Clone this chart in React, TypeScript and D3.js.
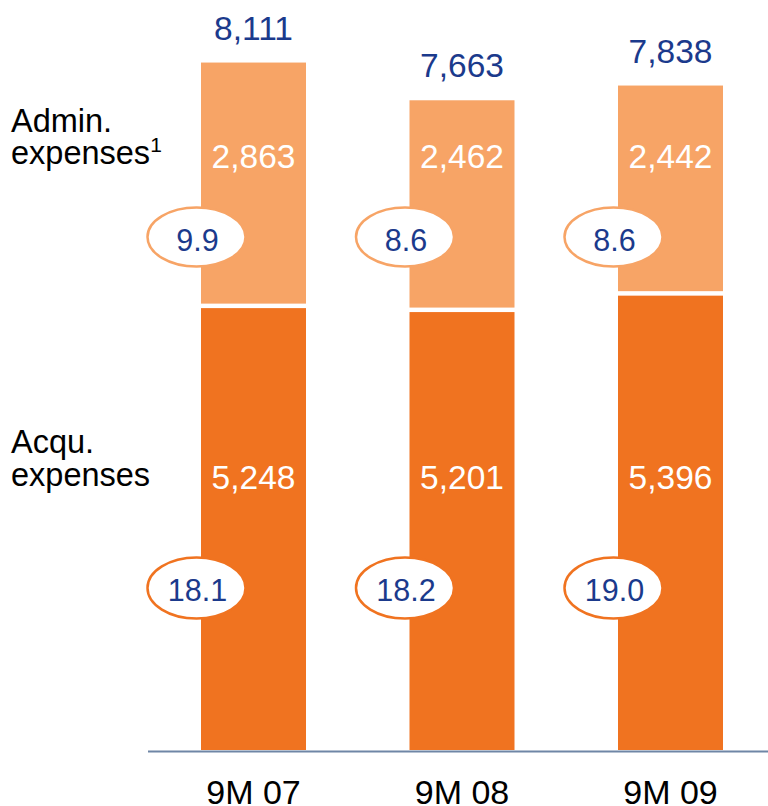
import React from "react";
import * as d3 from "d3";

const categories = ["9M 07", "9M 08", "9M 09"];
const acqExpenses = [5248, 5201, 5396];
const adminExpenses = [2863, 2462, 2442];
const totals = [8111, 7663, 7838];
const adminRatios = ["9.9", "8.6", "8.6"];
const acqRatios = ["18.1", "18.2", "19.0"];

const W = 768;
const H = 806;
const DARK = "#F07320";
const LIGHT = "#F7A466";
const BLUE = "#1B3A8C";
const FONT = "Liberation Sans, Arial, sans-serif";

export default function App() {
  const baseY = 750;
  const y = d3.scaleLinear().domain([0, 8000]).range([baseY, baseY - 8000 * 0.0842]);
  const x = d3.scalePoint<string>().domain(categories).range([253.5, 670.5]);
  const barW = 105;
  const gap = 4.5;
  const fmt = d3.format(",");

  return (
    <svg
      width={W}
      height={H}
      style={{ position: "absolute", left: 0, top: 0, display: "block", background: "#fff" }}
      fontFamily={FONT}
    >
      {categories.map((c, i) => {
        const cx = x(c)!;
        const left = cx - barW / 2;
        const acqTop = y(acqExpenses[i]);
        const adminH = y(0) - y(adminExpenses[i]);
        const adminTop = acqTop - gap - adminH;
        const ex = cx - 57;
        return (
          <g key={c}>
            <rect x={left} y={acqTop} width={barW} height={baseY - acqTop} fill={DARK} />
            <rect x={left} y={adminTop} width={barW} height={adminH} fill={LIGHT} />
            <text x={cx} y={adminTop - 23} textAnchor="middle" fontSize={33.5} fill={BLUE}>
              {fmt(totals[i])}
            </text>
            <text x={cx} y={168} textAnchor="middle" fontSize={33.5} fill="#fff">
              {fmt(adminExpenses[i])}
            </text>
            <text x={cx} y={488.5} textAnchor="middle" fontSize={33.5} fill="#fff">
              {fmt(acqExpenses[i])}
            </text>
            <ellipse cx={ex} cy={237} rx={49} ry={29.5} fill="#fff" stroke={LIGHT} strokeWidth={2.5} />
            <text x={ex + 1} y={251} textAnchor="middle" fontSize={30.5} fill={BLUE}>
              {adminRatios[i]}
            </text>
            <ellipse cx={ex} cy={588} rx={49} ry={30.5} fill="#fff" stroke={DARK} strokeWidth={2.5} />
            <text x={ex + 1} y={601} textAnchor="middle" fontSize={30.5} fill={BLUE}>
              {acqRatios[i]}
            </text>
            <text x={cx} y={804} textAnchor="middle" fontSize={34} fill="#000">
              {c}
            </text>
          </g>
        );
      })}
      <line x1={148} x2={768} y1={751.5} y2={751.5} stroke="#6F86A6" strokeWidth={2} />
      <text x={11} y={132} fontSize={32.5} fill="#000">Admin.</text>
      <text x={11} y={164} fontSize={32.5} fill="#000">
        expenses
        <tspan fontSize={21} dy={-12}>1</tspan>
      </text>
      <text x={11} y={453} fontSize={32.5} fill="#000">Acqu.</text>
      <text x={11} y={486} fontSize={32.5} fill="#000">expenses</text>
    </svg>
  );
}
